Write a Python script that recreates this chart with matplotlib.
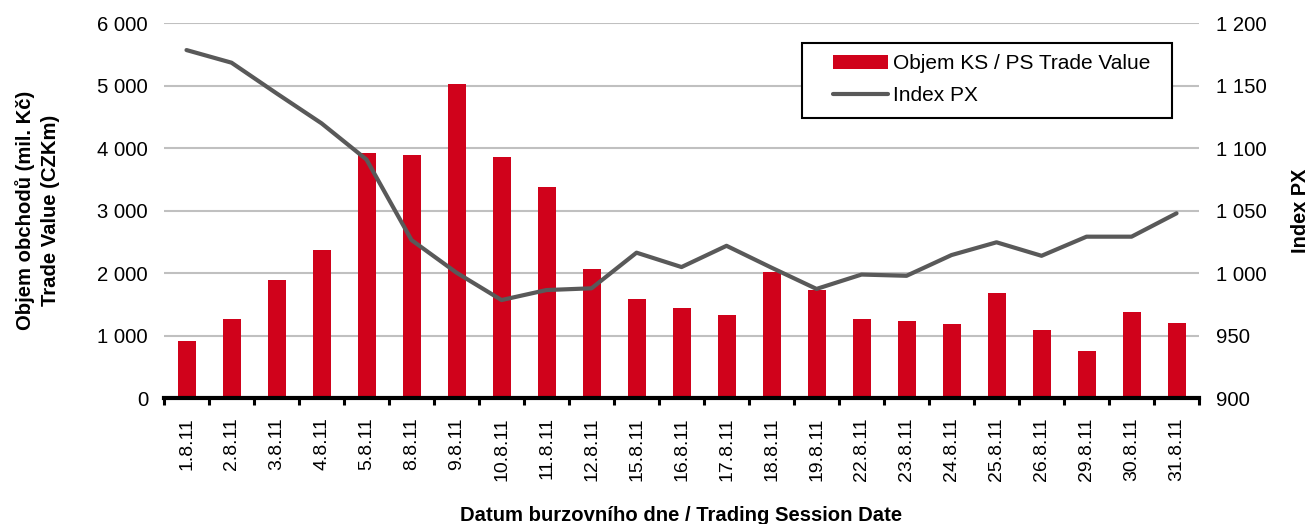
import matplotlib
matplotlib.use("Agg")
import matplotlib.pyplot as plt
from matplotlib.ticker import FuncFormatter, FixedLocator
from matplotlib.patches import Rectangle
import numpy as np

dates = ["1.8.11", "2.8.11", "3.8.11", "4.8.11", "5.8.11", "8.8.11", "9.8.11",
         "10.8.11", "11.8.11", "12.8.11", "15.8.11", "16.8.11", "17.8.11", "18.8.11",
         "19.8.11", "22.8.11", "23.8.11", "24.8.11", "25.8.11", "26.8.11", "29.8.11",
         "30.8.11", "31.8.11"]
trade_value = [915, 1275, 1885, 2365, 3925, 3895, 5030, 3865, 3385, 2075, 1595, 1450,
               1325, 2025, 1740, 1275, 1240, 1195, 1690, 1085, 750, 1385, 1210]
index_px = [1178.6, 1168.5, 1144, 1120, 1091, 1026.6, 1000.5, 978.6, 986.6, 988,
            1016.5, 1005, 1022, 1004.5, 987.5, 999, 998, 1014.6, 1024.8, 1014,
            1029.3, 1029.3, 1048]

plt.rcParams['font.family'] = ['Liberation Sans', 'DejaVu Sans']

W, H = 1311, 524
fig = plt.figure(figsize=(W / 100, H / 100), dpi=100)
ax = fig.add_axes([0.1251, 0.2399, 0.7895, 0.7156])
ax2 = ax.twinx()

x = np.arange(len(dates))
bar_color = '#D0021B'
line_color = '#595959'

bars = ax.bar(x, trade_value, width=0.4, color=bar_color, zorder=2,
              label='Objem KS / PS Trade Value')
line, = ax2.plot(x, index_px, color=line_color, lw=3, solid_capstyle='round',
                 label='Index PX', zorder=3)

ax.set_xlim(-0.5, len(dates) - 0.5)
ax.set_ylim(0, 6000)
ax2.set_ylim(900, 1200)
ax.set_yticks(np.arange(0, 6001, 1000))
ax2.set_yticks(np.arange(900, 1201, 50))

fmt = FuncFormatter(lambda v, p: f"{int(round(v)):,}".replace(",", " "))
ax.yaxis.set_major_formatter(fmt)
ax2.yaxis.set_major_formatter(fmt)

ax.set_axisbelow(True)
ax.yaxis.grid(True, color='#C0C0C0', lw=1.5, zorder=0)

for a in (ax, ax2):
    for s in ('left', 'right', 'top'):
        a.spines[s].set_visible(False)
ax2.spines['bottom'].set_visible(False)
ax.spines['bottom'].set_linewidth(3)
ax.spines['bottom'].set_color('black')

ax.set_xticks(x)
ax.set_xticklabels(dates, rotation=90, fontsize=14)
ax.tick_params(axis='x', which='major', length=0, pad=13.5)
ax.xaxis.set_minor_locator(FixedLocator(np.arange(-0.5, len(dates), 1.0)))
ax.tick_params(axis='x', which='minor', length=5, width=2.2, color='black')

ax.tick_params(axis='y', length=0, labelsize=14.6, pad=11.5)
ax2.tick_params(axis='y', length=0, labelsize=14.6, pad=12)

ax.set_ylabel("Objem obchodů (mil. Kč)\nTrade Value (CZKm)", fontsize=14.6,
              fontweight='bold', labelpad=27, linespacing=1.4)
ax2.set_ylabel("Index PX", fontsize=14.4, fontweight='bold', labelpad=18)
ax.set_xlabel("Datum burzovního dne / Trading Session Date", fontsize=14.6,
              fontweight='bold', labelpad=18)

# legend frame (drawn as a rectangle to match the reference padding)
fx0, fx1, fy0, fy1 = 802, 1172, 43, 118
frame = Rectangle((fx0 / W, 1 - fy1 / H), (fx1 - fx0) / W, (fy1 - fy0) / H,
                  transform=fig.transFigure, fill=True, facecolor='white',
                  edgecolor='black', lw=1.5, zorder=5, clip_on=False)
ax2.add_patch(frame)

leg = ax2.legend([bars, line], ['Objem KS / PS Trade Value', 'Index PX'],
                 loc='upper left', bbox_to_anchor=(825 / W, 1 - 46 / H),
                 bbox_transform=fig.transFigure,
                 fontsize=15, frameon=False, handlelength=2.6, handletextpad=0.25,
                 borderpad=0.4, labelspacing=0.62, borderaxespad=0)
leg.set_zorder(6)

fig.savefig("out.png", dpi=100)
